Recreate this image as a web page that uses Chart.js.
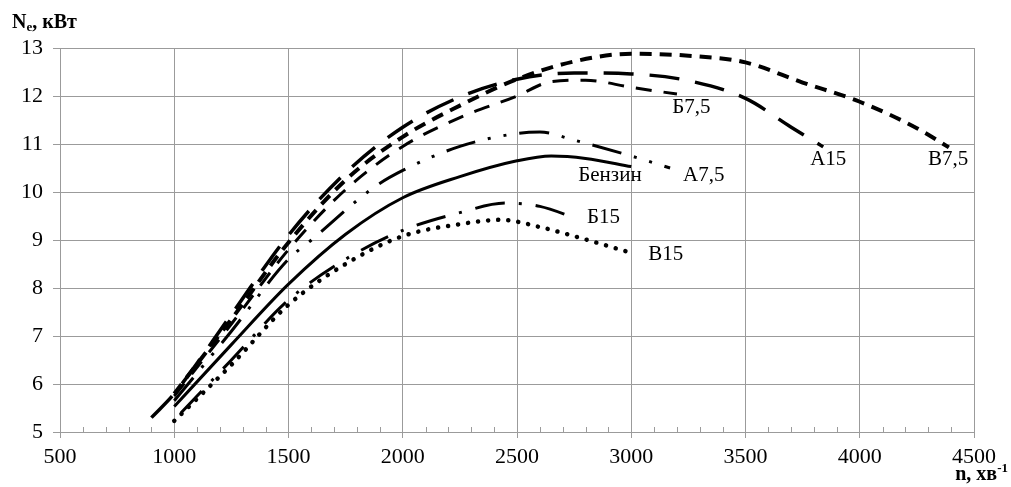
<!DOCTYPE html>
<html>
<head>
<meta charset="utf-8">
<script src="https://cdn.jsdelivr.net/npm/chart.js@4.4.0/dist/chart.umd.min.js"></script>
<style>
  html, body { margin: 0; padding: 0; background: #fff; }
  #powerChart { display: block; }
</style>
</head>
<body>
<canvas id="powerChart" width="1011" height="487"></canvas>
<script>
// Ne = f(n) for petrol and the blends
const xTicks = [500, 1000, 1500, 2000, 2500, 3000, 3500, 4000, 4500];
const yTicks = [5, 6, 7, 8, 9, 10, 11, 12, 13];

const rpmBenzin = [1000, 1250, 1500, 1750, 2000, 2250, 2500, 2650, 2800, 3000];
const powBenzin = [5.53, 6.82, 8.08, 9.12, 9.88, 10.32, 10.65, 10.75, 10.7, 10.53];

const rpmA75 = [1000, 1250, 1500, 1600, 1875, 2000, 2250, 2500, 2600, 2750, 3000, 3170];
const powA75 = [5.65, 7.1, 8.6, 9.0, 10.1, 10.45, 10.95, 11.22, 11.25, 11.08, 10.75, 10.5];

const rpmB75 = [1000, 1250, 1500, 1750, 2000, 2250, 2500, 2650, 2800, 3000, 3200];
const powB75 = [5.75, 7.25, 8.8, 10.05, 10.95, 11.55, 12.0, 12.3, 12.33, 12.18, 12.04];

const rpmV75 = [1000, 1250, 1500, 1750, 2000, 2250, 2500, 2750, 3000, 3250, 3500, 3750, 4000, 4250, 4390];
const powV75 = [5.8, 7.35, 8.95, 10.25, 11.15, 11.8, 12.35, 12.72, 12.88, 12.84, 12.7, 12.28, 11.88, 11.33, 10.93];

const rpmA15 = [900, 1000, 1250, 1500, 1750, 2000, 2250, 2500, 2750, 3000, 3250, 3500, 3700, 3840];
const powA15 = [5.3, 5.8, 7.45, 9.1, 10.4, 11.35, 11.98, 12.35, 12.48, 12.46, 12.32, 11.95, 11.35, 10.94];

const rpmB15 = [1030, 1250, 1500, 1750, 2000, 2250, 2450, 2600, 2760];
const powB15 = [5.4, 6.5, 7.75, 8.6, 9.2, 9.57, 9.77, 9.7, 9.45];

const rpmV15 = [1000, 1250, 1500, 1750, 2000, 2250, 2430, 2600, 2750, 2980];
const powV15 = [5.23, 6.4, 7.65, 8.5, 9.08, 9.33, 9.42, 9.27, 9.08, 8.76];

// curve captions: text, n, Ne (left edge, vertical middle)
const captionText = ['Б7,5', 'Бензин', 'А7,5', 'Б15', 'В15', 'А15', 'В7,5'];
const captionRpm = [3179, 2768, 3227, 2806, 3074, 3783, 4299];
const captionPow = [11.76, 10.34, 10.34, 9.47, 8.7, 10.67, 10.67];

function pts(xs, ys) {
    return xs.map((x, i) => ({ x: x, y: ys[i] }));
}

function series(label, xs, ys, width, dash, cap) {
    return {
        label: label,
        data: pts(xs, ys),
        borderColor: '#000',
        borderWidth: width,
        borderDash: dash,
        borderCapStyle: cap || 'butt',
        pointRadius: 0,
        fill: false,
        cubicInterpolationMode: 'monotone'
    };
}

const serif = "'Liberation Serif', 'Times New Roman', serif";
const gridGrey = '#9b9b9b';

const extras = {
    id: 'extras',
    afterDraw(chart) {
        const ctx = chart.ctx;
        const xs = chart.scales.x;
        const ys = chart.scales.y;
        const area = chart.chartArea;
        ctx.save();

        // minor ticks on the n axis
        ctx.strokeStyle = gridGrey;
        ctx.lineWidth = 1;
        for (let n = 600; n < 4500; n += 100) {
            if (n % 500 === 0) continue;
            const px = Math.round(xs.getPixelForValue(n)) + 0.5;
            ctx.beginPath();
            ctx.moveTo(px, area.bottom);
            ctx.lineTo(px, area.bottom - 5);
            ctx.stroke();
        }

        // curve captions
        ctx.fillStyle = '#000';
        ctx.font = '21px ' + serif;
        ctx.textAlign = 'left';
        ctx.textBaseline = 'middle';
        captionText.forEach((t, i) => {
            ctx.fillText(t, xs.getPixelForValue(captionRpm[i]), ys.getPixelForValue(captionPow[i]));
        });

        // axis titles
        ctx.textBaseline = 'alphabetic';
        ctx.font = 'bold 20px ' + serif;
        let x = 12;
        ctx.fillText('N', x, 28);
        x += ctx.measureText('N').width;
        ctx.font = 'bold 13px ' + serif;
        ctx.fillText('e', x, 31);
        x += ctx.measureText('e').width;
        ctx.font = 'bold 20px ' + serif;
        ctx.fillText(', кВт', x, 28);

        ctx.font = 'bold 13px ' + serif;
        const sup = '-1';
        const supW = ctx.measureText(sup).width;
        ctx.font = 'bold 20px ' + serif;
        const main = 'n, хв';
        const mainW = ctx.measureText(main).width;
        const x0 = 1008 - supW - mainW;
        ctx.fillText(main, x0, 480);
        ctx.font = 'bold 13px ' + serif;
        ctx.fillText(sup, x0 + mainW, 472);

        ctx.restore();
    }
};

const chart = new Chart(document.getElementById('powerChart').getContext('2d'), {
    type: 'line',
    data: {
        datasets: [
            series('Бензин', rpmBenzin, powBenzin, 3, []),
            series('А7,5', rpmA75, powA75, 3, [30, 13, 3, 13, 3, 13]),
            series('Б7,5', rpmB75, powB75, 3, [16, 12]),
            series('В7,5', rpmV75, powV75, 4, [12, 8]),
            series('А15', rpmA15, powA15, 3.5, [30, 16]),
            series('Б15', rpmB15, powB15, 3, [30, 14, 3, 14]),
            series('В15', rpmV15, powV15, 4.5, [0.1, 10], 'round')
        ]
    },
    options: {
        responsive: false,
        animation: false,
        devicePixelRatio: 1,
        layout: { padding: { top: 48, right: 37, left: 0, bottom: 0 } },
        plugins: {
            legend: { display: false },
            tooltip: { enabled: false }
        },
        scales: {
            x: {
                type: 'linear',
                min: xTicks[0],
                max: xTicks[xTicks.length - 1],
                afterBuildTicks(scale) { scale.ticks = xTicks.map(v => ({ value: v })); },
                afterFit(scale) { scale.height = 55; },
                grid: { color: gridGrey, tickColor: gridGrey, tickLength: 6, lineWidth: 1 },
                border: { color: gridGrey },
                ticks: {
                    color: '#000',
                    font: { family: serif, size: 22 },
                    padding: 6,
                    maxRotation: 0,
                    autoSkip: false,
                    callback: v => String(v)
                }
            },
            y: {
                min: yTicks[0],
                max: yTicks[yTicks.length - 1],
                afterBuildTicks(scale) { scale.ticks = yTicks.map(v => ({ value: v })); },
                afterFit(scale) { scale.width = 60; },
                grid: { color: gridGrey, tickColor: gridGrey, tickLength: 7, lineWidth: 1 },
                border: { color: gridGrey },
                ticks: {
                    color: '#000',
                    font: { family: serif, size: 22 },
                    padding: 10,
                    autoSkip: false
                }
            }
        }
    },
    plugins: [extras]
});
</script>
</body>
</html>
